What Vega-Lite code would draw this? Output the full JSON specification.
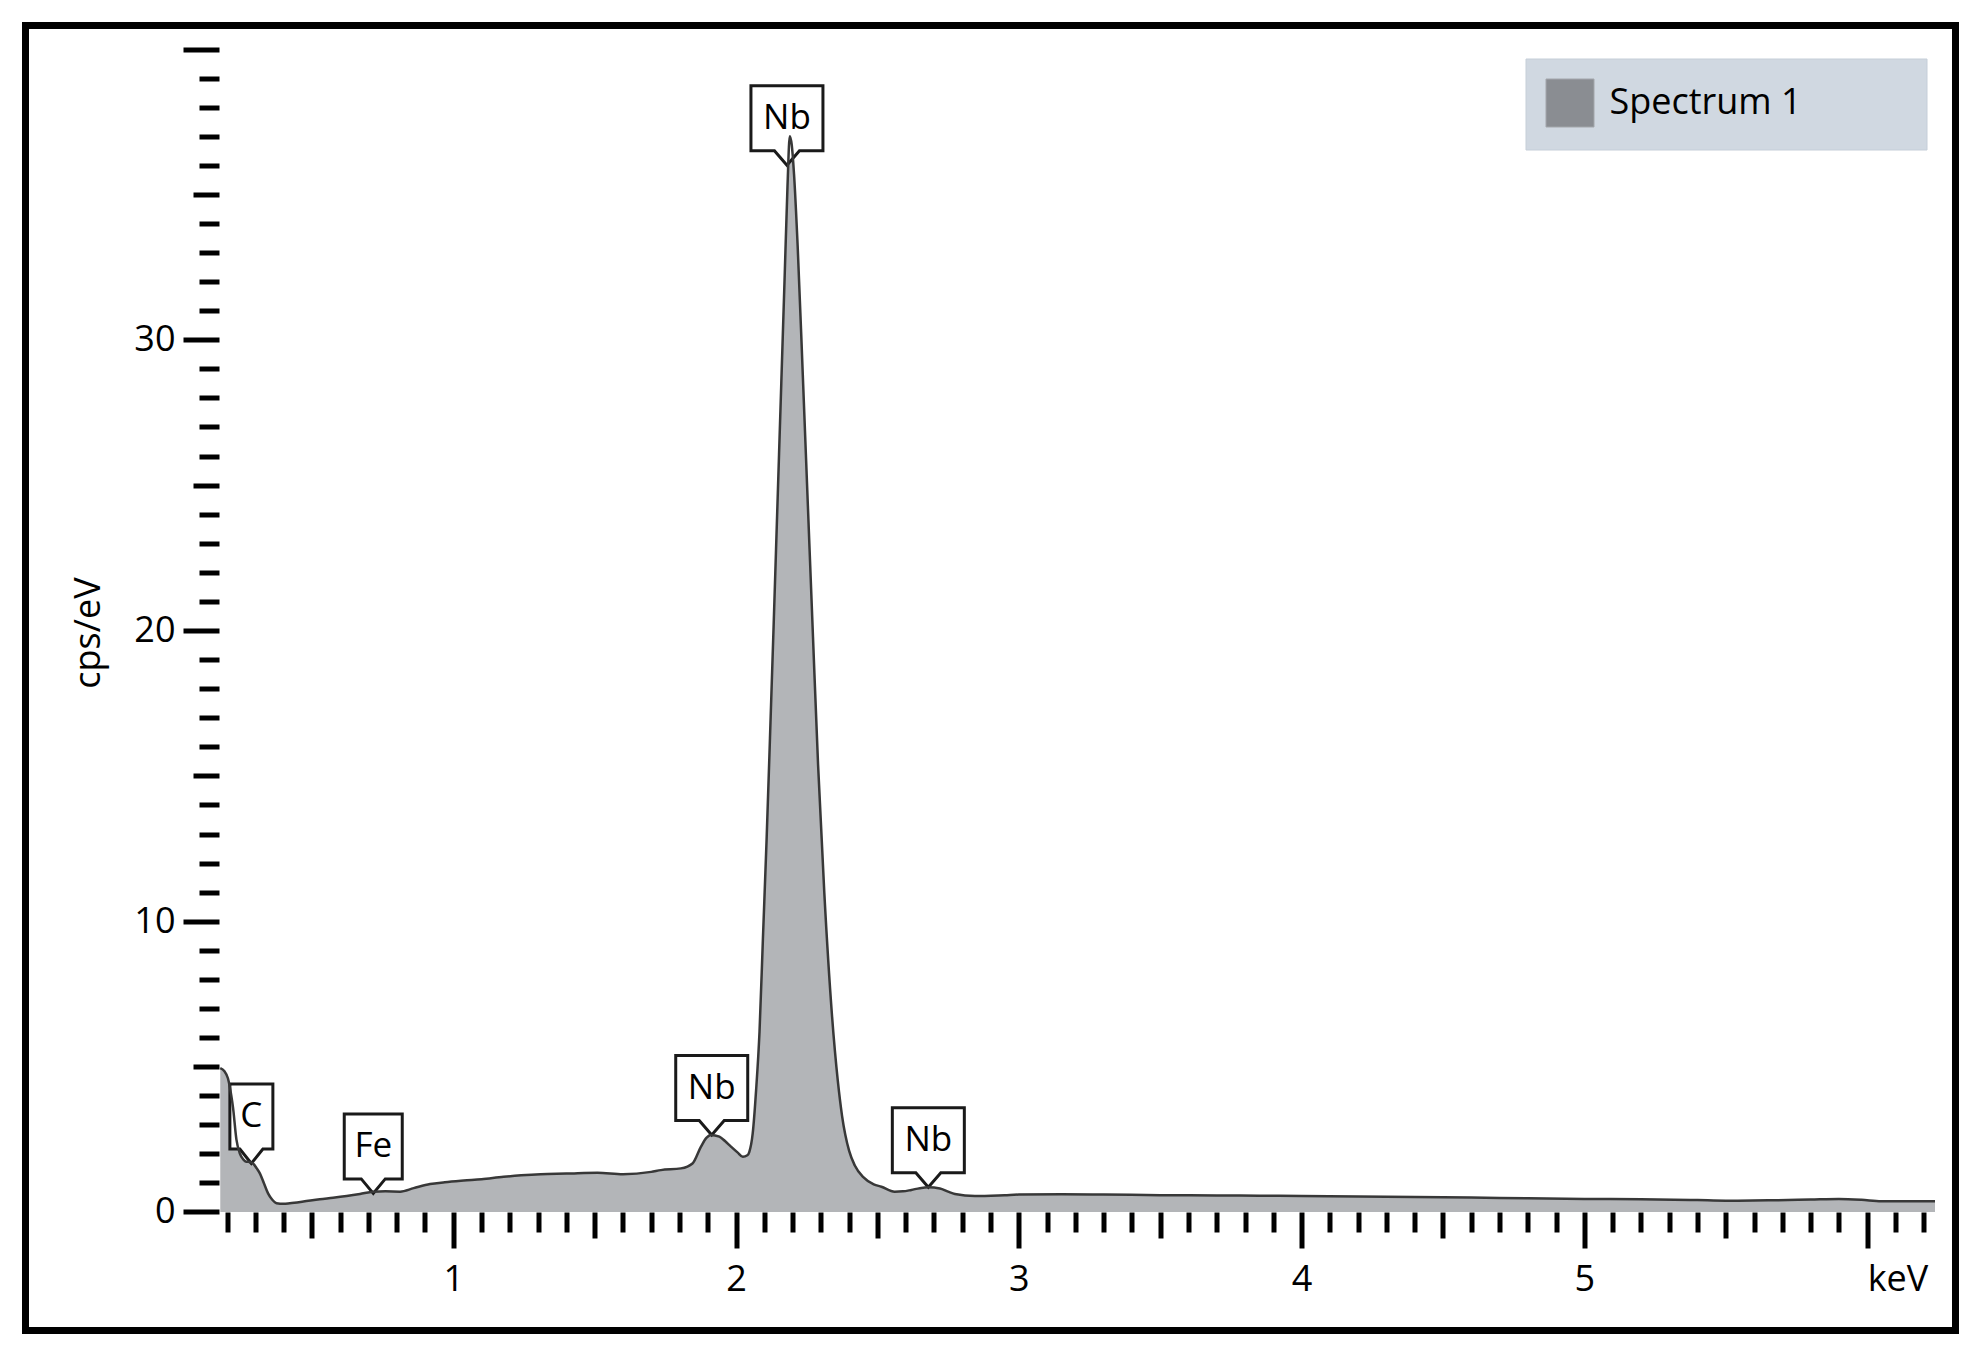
{
  "$schema": "https://vega.github.io/schema/vega-lite/v6.json",
  "autosize": {"type": "none"},
  "padding": {"left": 25.5, "top": 25.5, "right": 27.5, "bottom": 32.5},
  "width": 1930,
  "height": 1305,
  "background": "white",
  "config": {
    "view": {"stroke": "black", "strokeWidth": 7},
    "font": "Open Sans"
  },
  "datasets": {
    "spectrum": [
      {"keV": 0.176, "cps": 4.95, "series": "Spectrum 1"},
      {"keV": 0.19, "cps": 4.85, "series": "Spectrum 1"},
      {"keV": 0.203, "cps": 4.6, "series": "Spectrum 1"},
      {"keV": 0.215, "cps": 4.0, "series": "Spectrum 1"},
      {"keV": 0.221, "cps": 3.6, "series": "Spectrum 1"},
      {"keV": 0.233, "cps": 2.5, "series": "Spectrum 1"},
      {"keV": 0.245, "cps": 2.02, "series": "Spectrum 1"},
      {"keV": 0.258, "cps": 1.8, "series": "Spectrum 1"},
      {"keV": 0.268, "cps": 1.73, "series": "Spectrum 1"},
      {"keV": 0.28, "cps": 1.72, "series": "Spectrum 1"},
      {"keV": 0.292, "cps": 1.67, "series": "Spectrum 1"},
      {"keV": 0.305, "cps": 1.5, "series": "Spectrum 1"},
      {"keV": 0.316, "cps": 1.33, "series": "Spectrum 1"},
      {"keV": 0.33, "cps": 1.0, "series": "Spectrum 1"},
      {"keV": 0.345, "cps": 0.64, "series": "Spectrum 1"},
      {"keV": 0.36, "cps": 0.42, "series": "Spectrum 1"},
      {"keV": 0.375, "cps": 0.3, "series": "Spectrum 1"},
      {"keV": 0.4, "cps": 0.28, "series": "Spectrum 1"},
      {"keV": 0.422, "cps": 0.3, "series": "Spectrum 1"},
      {"keV": 0.47, "cps": 0.36, "series": "Spectrum 1"},
      {"keV": 0.528, "cps": 0.44, "series": "Spectrum 1"},
      {"keV": 0.575, "cps": 0.49, "series": "Spectrum 1"},
      {"keV": 0.623, "cps": 0.55, "series": "Spectrum 1"},
      {"keV": 0.67, "cps": 0.62, "series": "Spectrum 1"},
      {"keV": 0.717, "cps": 0.7, "series": "Spectrum 1"},
      {"keV": 0.76, "cps": 0.71, "series": "Spectrum 1"},
      {"keV": 0.812, "cps": 0.7, "series": "Spectrum 1"},
      {"keV": 0.86, "cps": 0.82, "series": "Spectrum 1"},
      {"keV": 0.918, "cps": 0.96, "series": "Spectrum 1"},
      {"keV": 0.97, "cps": 1.02, "series": "Spectrum 1"},
      {"keV": 1.037, "cps": 1.08, "series": "Spectrum 1"},
      {"keV": 1.1, "cps": 1.13, "series": "Spectrum 1"},
      {"keV": 1.178, "cps": 1.21, "series": "Spectrum 1"},
      {"keV": 1.24, "cps": 1.26, "series": "Spectrum 1"},
      {"keV": 1.309, "cps": 1.3, "series": "Spectrum 1"},
      {"keV": 1.4, "cps": 1.32, "series": "Spectrum 1"},
      {"keV": 1.51, "cps": 1.35, "series": "Spectrum 1"},
      {"keV": 1.6, "cps": 1.3, "series": "Spectrum 1"},
      {"keV": 1.7, "cps": 1.38, "series": "Spectrum 1"},
      {"keV": 1.734, "cps": 1.44, "series": "Spectrum 1"},
      {"keV": 1.805, "cps": 1.5, "series": "Spectrum 1"},
      {"keV": 1.846, "cps": 1.67, "series": "Spectrum 1"},
      {"keV": 1.876, "cps": 2.25, "series": "Spectrum 1"},
      {"keV": 1.895, "cps": 2.55, "series": "Spectrum 1"},
      {"keV": 1.911, "cps": 2.65, "series": "Spectrum 1"},
      {"keV": 1.941, "cps": 2.59, "series": "Spectrum 1"},
      {"keV": 1.96, "cps": 2.45, "series": "Spectrum 1"},
      {"keV": 1.982, "cps": 2.25, "series": "Spectrum 1"},
      {"keV": 2.005, "cps": 2.05, "series": "Spectrum 1"},
      {"keV": 2.024, "cps": 1.9, "series": "Spectrum 1"},
      {"keV": 2.04, "cps": 1.95, "series": "Spectrum 1"},
      {"keV": 2.047, "cps": 2.07, "series": "Spectrum 1"},
      {"keV": 2.059, "cps": 2.71, "series": "Spectrum 1"},
      {"keV": 2.071, "cps": 4.2, "series": "Spectrum 1"},
      {"keV": 2.083, "cps": 6.2, "series": "Spectrum 1"},
      {"keV": 2.095, "cps": 9.4, "series": "Spectrum 1"},
      {"keV": 2.108, "cps": 12.8, "series": "Spectrum 1"},
      {"keV": 2.12, "cps": 16.3, "series": "Spectrum 1"},
      {"keV": 2.133, "cps": 20.2, "series": "Spectrum 1"},
      {"keV": 2.146, "cps": 24.2, "series": "Spectrum 1"},
      {"keV": 2.16, "cps": 28.5, "series": "Spectrum 1"},
      {"keV": 2.172, "cps": 32.2, "series": "Spectrum 1"},
      {"keV": 2.182, "cps": 35.3, "series": "Spectrum 1"},
      {"keV": 2.19, "cps": 37.0, "series": "Spectrum 1"},
      {"keV": 2.197, "cps": 36.7, "series": "Spectrum 1"},
      {"keV": 2.205, "cps": 35.7, "series": "Spectrum 1"},
      {"keV": 2.218, "cps": 33.2, "series": "Spectrum 1"},
      {"keV": 2.236, "cps": 28.8, "series": "Spectrum 1"},
      {"keV": 2.254, "cps": 24.3, "series": "Spectrum 1"},
      {"keV": 2.272, "cps": 19.8, "series": "Spectrum 1"},
      {"keV": 2.29, "cps": 15.4, "series": "Spectrum 1"},
      {"keV": 2.312, "cps": 11.0, "series": "Spectrum 1"},
      {"keV": 2.339, "cps": 6.8, "series": "Spectrum 1"},
      {"keV": 2.36, "cps": 4.5, "series": "Spectrum 1"},
      {"keV": 2.375, "cps": 3.3, "series": "Spectrum 1"},
      {"keV": 2.4, "cps": 2.1, "series": "Spectrum 1"},
      {"keV": 2.42, "cps": 1.6, "series": "Spectrum 1"},
      {"keV": 2.45, "cps": 1.2, "series": "Spectrum 1"},
      {"keV": 2.487, "cps": 0.95, "series": "Spectrum 1"},
      {"keV": 2.514, "cps": 0.87, "series": "Spectrum 1"},
      {"keV": 2.561, "cps": 0.7, "series": "Spectrum 1"},
      {"keV": 2.59, "cps": 0.71, "series": "Spectrum 1"},
      {"keV": 2.62, "cps": 0.76, "series": "Spectrum 1"},
      {"keV": 2.65, "cps": 0.82, "series": "Spectrum 1"},
      {"keV": 2.68, "cps": 0.85, "series": "Spectrum 1"},
      {"keV": 2.721, "cps": 0.81, "series": "Spectrum 1"},
      {"keV": 2.75, "cps": 0.7, "series": "Spectrum 1"},
      {"keV": 2.774, "cps": 0.62, "series": "Spectrum 1"},
      {"keV": 2.845, "cps": 0.55, "series": "Spectrum 1"},
      {"keV": 2.95, "cps": 0.58, "series": "Spectrum 1"},
      {"keV": 3.0, "cps": 0.6, "series": "Spectrum 1"},
      {"keV": 3.152, "cps": 0.61, "series": "Spectrum 1"},
      {"keV": 3.3, "cps": 0.6, "series": "Spectrum 1"},
      {"keV": 3.5, "cps": 0.58, "series": "Spectrum 1"},
      {"keV": 3.7, "cps": 0.57, "series": "Spectrum 1"},
      {"keV": 3.85, "cps": 0.56, "series": "Spectrum 1"},
      {"keV": 4.0, "cps": 0.55, "series": "Spectrum 1"},
      {"keV": 4.2, "cps": 0.53, "series": "Spectrum 1"},
      {"keV": 4.4, "cps": 0.52, "series": "Spectrum 1"},
      {"keV": 4.6, "cps": 0.5, "series": "Spectrum 1"},
      {"keV": 4.8, "cps": 0.47, "series": "Spectrum 1"},
      {"keV": 5.0, "cps": 0.45, "series": "Spectrum 1"},
      {"keV": 5.2, "cps": 0.44, "series": "Spectrum 1"},
      {"keV": 5.4, "cps": 0.41, "series": "Spectrum 1"},
      {"keV": 5.5, "cps": 0.39, "series": "Spectrum 1"},
      {"keV": 5.65, "cps": 0.4, "series": "Spectrum 1"},
      {"keV": 5.8, "cps": 0.43, "series": "Spectrum 1"},
      {"keV": 5.9, "cps": 0.45, "series": "Spectrum 1"},
      {"keV": 5.98, "cps": 0.42, "series": "Spectrum 1"},
      {"keV": 6.05, "cps": 0.37, "series": "Spectrum 1"},
      {"keV": 6.15, "cps": 0.37, "series": "Spectrum 1"},
      {"keV": 6.24, "cps": 0.37, "series": "Spectrum 1"}
    ],
    "peaks": [
      {"element": "C", "keV": 0.286, "cps": 1.67},
      {"element": "Fe", "keV": 0.717, "cps": 0.64},
      {"element": "Nb", "keV": 1.914, "cps": 2.65},
      {"element": "Nb", "keV": 2.18, "cps": 36.0},
      {"element": "Nb", "keV": 2.68, "cps": 0.85}
    ]
  },
  "encoding": {
    "x": {
      "field": "keV", "type": "quantitative",
      "scale": {"domain": [-0.5128, 6.3125], "nice": false, "zero": false},
      "axis": {
        "title": null,
        "orient": "bottom",
        "offset": -118.5,
        "domain": false,
        "grid": false,
        "values": [0.2,0.3,0.4,0.5,0.6,0.7,0.8,0.9,1,1.1,1.2,1.3,1.4,1.5,1.6,1.7,1.8,1.9,2,2.1,2.2,2.3,2.4,2.5,2.6,2.7,2.8,2.9,3,3.1,3.2,3.3,3.4,3.5,3.6,3.7,3.8,3.9,4,4.1,4.2,4.3,4.4,4.5,4.6,4.7,4.8,4.9,5,5.1,5.2,5.3,5.4,5.5,5.6,5.7,5.8,5.9,6,6.1,6.2],
        "tickColor": "black",
        "tickWidth": 5,
        "tickSize": {"condition": [{"test": "round(datum.value*10) % 10 == 0", "value": 36}, {"test": "round(datum.value*10) % 5 == 0", "value": 26}], "value": 20},
        "labelExpr": "round(datum.value*10) % 10 == 0 ? (round(datum.value) == 6 ? 'keV' : format(datum.value, 'd')) : ''",
        "labelAlign": {"condition": {"test": "round(datum.value*10) == 60", "value": "left"}, "value": "center"},
        "labelFont": "Open Sans",
        "labelFontSize": 36,
        "labelColor": "black",
        "labelPadding": 14,
        "labelOverlap": false,
        "labelFlush": false,
        "labelBound": false
      }
    },
    "y": {
      "field": "cps", "type": "quantitative",
      "scale": {"domain": [-4.0757, 40.8083], "nice": false, "zero": false},
      "axis": {
        "title": "cps/eV",
        "orient": "left",
        "offset": -193.5,
        "domain": false,
        "grid": false,
        "values": [0,1,2,3,4,5,6,7,8,9,10,11,12,13,14,15,16,17,18,19,20,21,22,23,24,25,26,27,28,29,30,31,32,33,34,35,36,37,38,39,40],
        "tickColor": "black",
        "tickWidth": 5,
        "tickSize": {"condition": [{"test": "datum.value % 10 == 0", "value": 36}, {"test": "datum.value % 5 == 0", "value": 26}], "value": 20},
        "labelExpr": "datum.value % 10 == 0 && datum.value < 40 ? datum.label : ''",
        "labelFont": "Open Sans",
        "labelFontSize": 36,
        "labelColor": "black",
        "labelPadding": 8,
        "labelOverlap": false,
        "labelFlush": false,
        "labelBound": false,
        "titleFont": "Open Sans",
        "titleFontSize": 36,
        "titleFontWeight": "normal",
        "titleColor": "black",
        "titlePadding": 26,
        "titleY": 607
      }
    }
  },
  "layer": [
    {
      "data": {"name": "spectrum"},
      "mark": {"type": "area", "interpolate": "monotone", "fillOpacity": 0.65},
      "encoding": {
        "y2": {"datum": 0},
        "color": {
          "field": "series", "type": "nominal",
          "scale": {"range": ["#8a8d92"]},
          "legend": {
            "title": null,
            "orient": "none",
            "legendX": 1500,
            "legendY": 33,
            "fillColor": "#d0d8e1",
            "strokeColor": "#c5ced8",
            "padding": 20,
            "cornerRadius": 0,
            "symbolType": "square",
            "symbolSize": 2304,
            "symbolOpacity": 1,
            "symbolStrokeColor": "#a3a6ab",
            "symbolStrokeWidth": 1,
            "labelFont": "Open Sans",
            "labelFontSize": 36,
            "labelColor": "black",
            "labelOffset": 15,
            "labelLimit": 0,
            "labelExpr": "datum.label + '\u2800\u2800\u2800\u2800'"
          }
        }
      }
    },
    {
      "data": {"name": "peaks"},
      "mark": {"type": "point", "filled": true, "fill": "white", "stroke": "#1a1a1a", "strokeWidth": 3, "opacity": 1, "size": 400},
      "encoding": {
        "shape": {
          "field": "element", "type": "nominal",
          "scale": {
            "domain": ["C", "Fe", "Nb"],
            "range": [
              "M0,0L-1.15,-1.45L-2.15,-1.45L-2.15,-7.95L2.15,-7.95L2.15,-1.45L1.15,-1.45Z",
              "M0,0L-1.2,-1.45L-2.9,-1.45L-2.9,-7.95L2.9,-7.95L2.9,-1.45L1.2,-1.45Z",
              "M0,0L-1.25,-1.45L-3.6,-1.45L-3.6,-7.95L3.6,-7.95L3.6,-1.45L1.25,-1.45Z"
            ]
          },
          "legend": null
        }
      }
    },
    {
      "data": {"name": "spectrum"},
      "mark": {"type": "line", "interpolate": "monotone", "stroke": "#383838", "strokeWidth": 2.5}
    },
    {
      "data": {"values": [{}]},
      "mark": {"type": "rule", "stroke": "black", "strokeWidth": 5},
      "encoding": {
        "x": {"datum": 0.175, "type": "quantitative"},
        "y": {"datum": 0, "type": "quantitative"},
        "y2": {"datum": 40}
      }
    },
    {
      "data": {"values": [{}]},
      "mark": {"type": "rule", "stroke": "black", "strokeWidth": 5},
      "encoding": {
        "x": {"datum": 0.175, "type": "quantitative"},
        "x2": {"datum": 6.24},
        "y": {"datum": 0, "type": "quantitative"}
      }
    },
    {
      "data": {"name": "peaks"},
      "mark": {"type": "text", "font": "Open Sans", "fontSize": 35, "color": "black", "align": "center", "baseline": "middle", "dy": -47},
      "encoding": {
        "text": {"field": "element"}
      }
    }
  ]
}
